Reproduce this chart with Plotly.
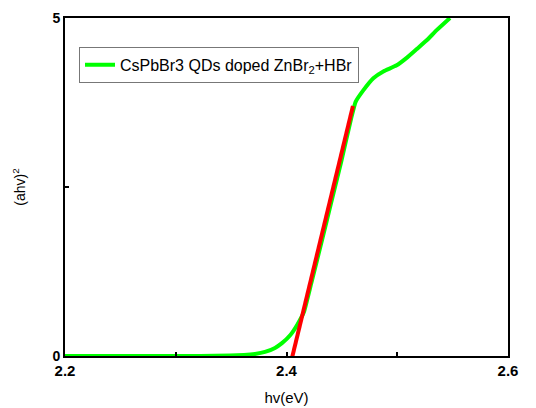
import plotly.graph_objects as go

# Green absorption curve (Tauc plot)
hv = [2.2, 2.3219, 2.349, 2.3616, 2.3716, 2.3806, 2.3896, 2.3959, 2.4035, 2.4100,
      2.4157, 2.4224, 2.4314, 2.4405, 2.4495, 2.4583, 2.4624, 2.4693, 2.4784, 2.4874,
      2.4995, 2.5085, 2.5176, 2.5266, 2.5356, 2.5476]
ahv2 = [0.0, 0.0, 0.007, 0.015, 0.03, 0.06, 0.12, 0.19, 0.31, 0.47,
        0.65, 1.08, 1.67, 2.28, 2.88, 3.51, 3.76, 3.93, 4.11, 4.21,
        4.30, 4.41, 4.54, 4.67, 4.82, 5.0]

# Red linear fit
fit_x = [2.4032, 2.4600]
fit_y = [-0.148, 3.698]

x_tickvals = [2.2, 2.3, 2.4, 2.5, 2.6]
x_ticktext = ["2.2", "", "2.4", "", "2.6"]
y_tickvals = [0, 2.5, 5]
y_ticktext = ["0", "", "5"]

FONT = "Liberation Sans, Arial, sans-serif"

fig = go.Figure()
fig.add_trace(go.Scatter(x=hv, y=ahv2, mode="lines",
                         line=dict(color="#00ff00", width=4, shape="spline", smoothing=0.4),
                         name="CsPbBr3 QDs doped ZnBr<sub>2</sub>+HBr"))
fig.add_trace(go.Scatter(x=fit_x, y=fit_y, mode="lines",
                         line=dict(color="#ff0000", width=4),
                         showlegend=False, cliponaxis=False))

fig.update_layout(
    width=536, height=408,
    margin=dict(l=65, r=28, t=18, b=52, autoexpand=False),
    paper_bgcolor="white", plot_bgcolor="white",
    font=dict(family=FONT, color="black", size=14),
    showlegend=True,
    legend=dict(x=0.0316, y=0.915, xanchor="left", yanchor="top",
                bordercolor="#777777", borderwidth=1, bgcolor="white",
                font=dict(family=FONT, size=16, color="black"),
                tracegroupgap=0, itemwidth=30),
    xaxis=dict(range=[2.2, 2.6], tickvals=x_tickvals, ticktext=x_ticktext,
               ticks="inside", ticklen=4, tickwidth=2, tickcolor="black",
               showline=True, linecolor="black", linewidth=2, mirror=True,
               showgrid=False, zeroline=False, automargin=False,
               tickfont=dict(family=FONT, size=15, color="black", weight="bold"),
               title=dict(text="hv(eV)", font=dict(family=FONT, size=15), standoff=14)),
    yaxis=dict(range=[0, 5], tickvals=y_tickvals, ticktext=y_ticktext,
               ticks="inside", ticklen=4, tickwidth=2, tickcolor="black",
               showline=True, linecolor="black", linewidth=2, mirror=True,
               showgrid=False, zeroline=False, automargin=False,
               tickfont=dict(family=FONT, size=14, color="black", weight="bold"),
               title=dict(text="(ahv)<sup>2</sup>", font=dict(family=FONT, size=14), standoff=24)),
)

fig.write_html("out.html")
